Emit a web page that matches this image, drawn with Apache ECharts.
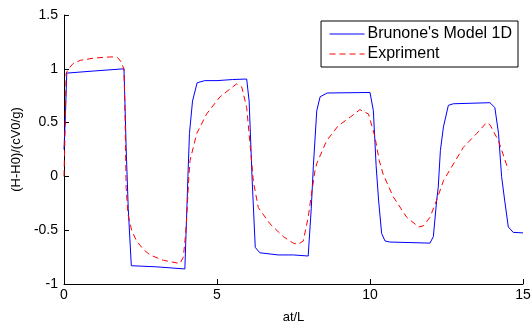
<!DOCTYPE html>
<html>
<head>
<meta charset="utf-8">
<script src="https://cdn.jsdelivr.net/npm/echarts@6/dist/echarts.min.js"></script>
<style>html,body{margin:0;padding:0;background:#fff}#c{width:532px;height:327px}</style>
</head>
<body>
<div id="c"></div>
<script>
var xTicks = [0, 5, 10, 15];
var yTicks = [-1, -0.5, 0, 0.5, 1, 1.5];
var modelName = "Brunone's Model 1D";
var expName = "Expriment";
var modelX = [0,0.05,0.09,1.0,1.96,2.0,2.03,2.1,2.2,3.0,3.95,4.05,4.1,4.2,4.35,4.6,5.0,5.5,5.97,6.05,6.15,6.25,6.4,7.0,7.5,7.98,8.08,8.15,8.26,8.37,8.6,10.0,10.11,10.2,10.28,10.38,10.49,10.65,11.96,12.07,12.18,12.23,12.3,12.4,12.56,12.72,13.92,14.08,14.2,14.3,14.4,14.52,14.68,15.0];
var modelY = [0.25,0.6,0.96,0.98,1.0,0.6,0.27,-0.3,-0.83,-0.84,-0.86,0.0,0.4,0.7,0.87,0.89,0.89,0.9,0.905,0.7,-0.04,-0.66,-0.71,-0.73,-0.73,-0.74,-0.3,0.1,0.61,0.74,0.775,0.78,0.61,0.1,-0.22,-0.53,-0.6,-0.61,-0.62,-0.56,-0.22,-0.1,0.24,0.46,0.66,0.675,0.685,0.64,0.4,0.0,-0.22,-0.47,-0.52,-0.525];
var expX = [0,0.04,0.07,0.15,0.3,0.55,1.0,1.5,1.72,1.83,1.96,2.0,2.03,2.09,2.21,2.37,2.6,2.81,3.25,3.79,3.9,3.97,4.01,4.08,4.12,4.34,4.66,5.1,5.64,5.81,5.97,6.08,6.19,6.35,6.73,7.17,7.49,7.65,7.82,7.98,8.09,8.2,8.26,8.58,8.96,9.35,9.67,9.95,10.16,10.3,10.43,10.76,11.2,11.59,11.74,11.96,12.18,12.4,12.61,13.05,13.49,13.81,13.92,14.2,14.52];
var expY = [0,0.5,0.96,1.0,1.05,1.08,1.1,1.11,1.11,1.08,1.0,0.5,-0.1,-0.35,-0.5,-0.6,-0.68,-0.73,-0.78,-0.81,-0.75,-0.55,-0.38,0.0,0.15,0.4,0.58,0.74,0.86,0.83,0.64,0.3,-0.05,-0.29,-0.44,-0.56,-0.62,-0.63,-0.6,-0.38,-0.16,0.05,0.12,0.33,0.47,0.55,0.62,0.58,0.37,0.15,0.02,-0.19,-0.38,-0.47,-0.46,-0.38,-0.22,-0.04,0.06,0.27,0.4,0.5,0.48,0.33,0.06];

function pairs(xs, ys){ return xs.map(function(x,i){ return [x, ys[i]]; }); }

var chart = echarts.init(document.getElementById('c'), null, {renderer:'canvas'});
var font = 'Liberation Sans, Arial, sans-serif';
chart.setOption({
  animation: false,
  backgroundColor: '#fff',
  grid: {left: 64, right: 9, top: 15, bottom: 43, containLabel: false, outerBoundsMode: 'none'},
  legend: {
    orient: 'vertical', right: 14, top: 21,
    itemWidth: 35, itemHeight: 10, itemGap: 4,
    padding: [5, 6, 5, 8],
    borderColor: '#000', borderWidth: 1, borderRadius: 0,
    backgroundColor: '#fff',
    itemStyle: {opacity: 0, borderWidth: 0},
    lineStyle: {width: 1},
    textStyle: {fontFamily: font, fontSize: 16, color: '#000', padding: [0, 0, 0, -2]},
    data: [modelName, expName]
  },
  xAxis: {
    type: 'value', min: xTicks[0], max: xTicks[xTicks.length-1], interval: 5,
    name: 'at/L', nameLocation: 'middle', nameGap: 27,
    nameTextStyle: {fontFamily: font, fontSize: 13, color: '#000'},
    axisLine: {show: true, onZero: false, lineStyle: {color: '#000', width: 1}},
    axisTick: {show: true, inside: true, length: 5, lineStyle: {color: '#000'}},
    axisLabel: {fontFamily: font, fontSize: 14, color: '#000', margin: 4},
    splitLine: {show: false}
  },
  yAxis: {
    type: 'value', min: yTicks[0], max: yTicks[yTicks.length-1], interval: 0.5,
    name: '(H-H0)/(cV0/g)', nameLocation: 'middle', nameGap: 40,
    nameTextStyle: {fontFamily: font, fontSize: 13, color: '#000'},
    axisLine: {show: true, onZero: false, lineStyle: {color: '#000', width: 1}},
    axisTick: {show: true, inside: true, length: 5, lineStyle: {color: '#000'}},
    axisLabel: {fontFamily: font, fontSize: 14, color: '#000', margin: 6},
    splitLine: {show: false}
  },
  series: [
    {name: modelName, type: 'line', data: pairs(modelX, modelY), showSymbol: false, symbol: 'none',
     lineStyle: {color: '#0000ff', width: 1}, itemStyle: {color: '#0000ff'}},
    {name: expName, type: 'line', data: pairs(expX, expY), showSymbol: false, symbol: 'none',
     lineStyle: {color: '#ff0000', width: 1, type: [6, 4]}, itemStyle: {color: '#ff0000'}}
  ]
});
</script>
</body>
</html>
